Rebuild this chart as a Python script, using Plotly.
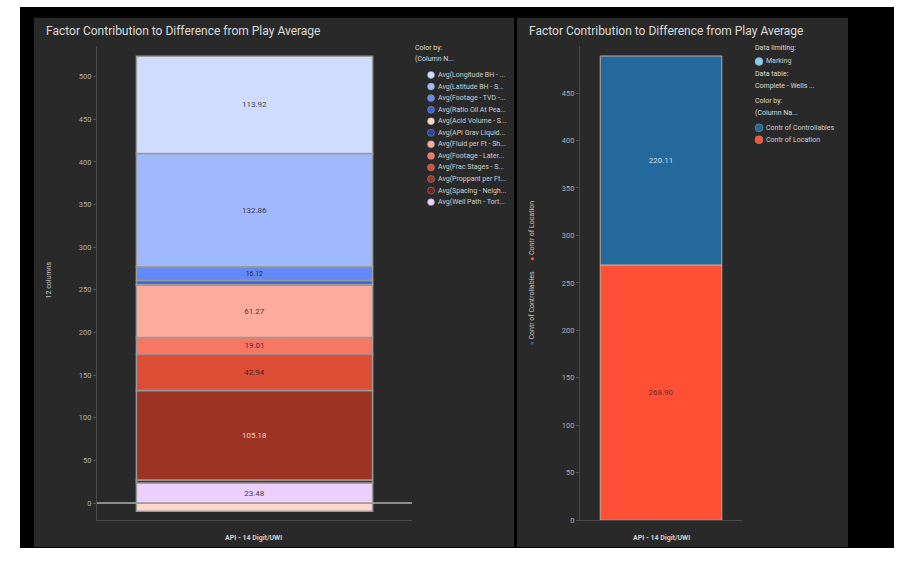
import plotly.graph_objects as go

W, H = 907, 553

# ---------------- data ----------------
category = ["API - 14 Digit/UWI"]

factor_names = [
    "Avg(Longitude BH - ...", "Avg(Latitude BH - S...", "Avg(Footage - TVD -...",
    "Avg(Ratio Oil At Pea...", "Avg(Acid Volume - S...", "Avg(API Grav Liquid...",
    "Avg(Fluid per Ft - Sh...", "Avg(Footage - Later...", "Avg(Frac Stages - S...",
    "Avg(Proppant per Ft...", "Avg(Spacing - Neigh...", "Avg(Well Path - Tort...",
]
factor_values = [113.92, 132.86, 16.12, 4.5, -9.5, 1.0, 61.27, 19.01, 42.94, 105.18, 3.5, 23.48]
factor_labeled = [True, True, True, False, False, False, True, True, True, True, False, True]
# stacking order, bottom to top (indices into the lists above)
stack_order = [4, 11, 10, 9, 8, 7, 6, 5, 3, 2, 1, 0]

contr_names = ["Contr of Location", "Contr of Controllables"]
contr_values = [268.90, 220.11]

left_ticks = [0, 50, 100, 150, 200, 250, 300, 350, 400, 450, 500]
right_ticks = [0, 50, 100, 150, 200, 250, 300, 350, 400, 450]

# ---------------- styles ----------------
factor_colors = ["#d0dcff", "#a0b8fd", "#6289f5", "#3b60dc", "#fdd6cc", "#2843a8",
                 "#fdab9c", "#f87764", "#dc4e36", "#9d3323", "#6e2419", "#ebd0fe"]
factor_text_colors = ["#3c3c4c", "#3c3c4c", "#2c2c44", "#333", "#333", "#eee",
                      "#4a3a3a", "#4a2a2a", "#4a2420", "#f0d4d0", "#eee", "#4a4050"]
contr_colors = {"Contr of Location": "#ff5035", "Contr of Controllables": "#23699b"}
contr_text_colors = {"Contr of Location": "#6a2a20", "Contr of Controllables": "#d0dcea"}

FONT = "Roboto, Arial, sans-serif"
PANEL = "#292929"


def px(x):
    return x / W


def py(y):
    return 1 - y / H


fig = go.Figure()

for i in stack_order:
    v = factor_values[i]
    fig.add_trace(go.Bar(
        x=category, y=[v], name=factor_names[i], xaxis="x", yaxis="y",
        marker=dict(color=factor_colors[i], line=dict(color="#9a9a9a", width=1.5)),
        text=[f"{v:.2f}" if factor_labeled[i] else ""],
        textposition="inside", insidetextanchor="middle", textangle=0,
        insidetextfont=dict(family=FONT, size=8, color=factor_text_colors[i]),
        showlegend=False,
    ))

for n, v in zip(contr_names, contr_values):
    fig.add_trace(go.Bar(
        x=category, y=[v], name=n, xaxis="x2", yaxis="y2",
        marker=dict(color=contr_colors[n], line=dict(color="#c8a89c", width=1)),
        text=[f"{v:.2f}"], textposition="inside", insidetextanchor="middle", textangle=0,
        insidetextfont=dict(family=FONT, size=8, color=contr_text_colors[n]),
        showlegend=False,
    ))

axis_common = dict(showgrid=False, linecolor="#4a4a4a", linewidth=1,
                   tickfont=dict(family=FONT, size=7.5, color="#b0b0b0"),
                   ticks="outside", ticklen=3, tickcolor="#555555")

fig.update_layout(
    width=W, height=H, margin=dict(l=0, r=0, t=0, b=0),
    paper_bgcolor="white", plot_bgcolor="rgba(0,0,0,0)",
    barmode="relative", bargap=0.25,
    font=dict(family=FONT),
    xaxis=dict(domain=[px(97), px(412)], range=[-0.5, 0.5], showticklabels=False,
               showgrid=False, showline=True, linecolor="#4a4a4a", zeroline=False,
               anchor="y"),
    yaxis=dict(domain=[py(525), py(46)], range=[-20.1, 536.4], tickvals=left_ticks,
               showline=True, zeroline=True, zerolinecolor="#8c8c8c", zerolinewidth=2,
               anchor="x", **axis_common),
    xaxis2=dict(domain=[px(580), px(742)], range=[-0.5, 0.5], showticklabels=False,
                showgrid=False, showline=True, linecolor="#4a4a4a", zeroline=False,
                anchor="y2"),
    yaxis2=dict(domain=[py(525), py(46)], range=[0, 500], tickvals=right_ticks,
                showline=True, zeroline=False, anchor="x2", **axis_common),
)

shapes = [
    dict(type="rect", xref="paper", yref="paper", x0=px(20), x1=px(894), y0=0, y1=py(7),
         fillcolor="#000000", line=dict(width=0), layer="below"),
    dict(type="rect", xref="paper", yref="paper", x0=px(34), x1=px(514), y0=py(552), y1=py(18),
         fillcolor=PANEL, line=dict(width=0), layer="below"),
    dict(type="rect", xref="paper", yref="paper", x0=px(517), x1=px(848), y0=py(552), y1=py(18),
         fillcolor=PANEL, line=dict(width=0), layer="below"),
]


def dot(cx, cy, color, d=7):
    return dict(type="circle", xref="paper", yref="paper",
                x0=px(cx - d / 2), x1=px(cx + d / 2), y0=py(cy + d / 2), y1=py(cy - d / 2),
                fillcolor=color, line=dict(width=0.5, color="#9a9a9a"), layer="above")


annotations = []


def text(x, y, s, size=7, color="#d8d8d8", xanchor="left", angle=0, yanchor="middle"):
    annotations.append(dict(x=px(x), y=py(y), xref="paper", yref="paper", text=s,
                            showarrow=False, xanchor=xanchor, yanchor=yanchor, textangle=angle,
                            font=dict(family=FONT, size=size, color=color)))


title = "Factor Contribution to Difference from Play Average"
text(44, 31, title, size=12, color="#dcdcdc")
text(527, 31, title, size=12, color="#dcdcdc")

# left legend
text(413, 48, "Color by:", size=7, color="#dcdcdc")
text(413, 60, "(Column N...", size=7, color="#dcdcdc")
for i, n in enumerate(factor_names):
    yy = 75.7 + i * 11.66
    shapes.append(dot(431, yy, factor_colors[i], 7))
    text(436, yy, n, size=7, color="#d0d0d0")

# right legend
text(753, 48, "Data limiting:", size=7, color="#dcdcdc")
shapes.append(dot(759, 62, "#87ceeb", 8))
text(764, 62, "Marking", size=7, color="#d0d0d0")
text(753, 75, "Data table:", size=7, color="#dcdcdc")
text(753, 87, "Complete - Wells ...", size=7, color="#dcdcdc")
text(753, 102, "Color by:", size=7, color="#dcdcdc")
text(753, 114, "(Column Na...", size=7, color="#dcdcdc")
for yy, n in zip([129, 141], ["Contr of Controllables", "Contr of Location"]):
    shapes.append(dot(759, yy, contr_colors[n], 8))
    text(764, yy, n, size=7, color="#d0d0d0")

# axis titles
text(254, 543, "<b>" + category[0] + "</b>", size=7, color="#d0d0d0", xanchor="center")
text(661, 543, "<b>" + category[0] + "</b>", size=7, color="#d0d0d0", xanchor="center")
text(49, 283, "12 columns", size=7, color="#c8c8c8", xanchor="center", angle=-90)
rot = ("<span style='color:%s'>●</span> Contr of Controllables      "
       "<span style='color:%s'>●</span> Contr of Location") % (
    contr_colors["Contr of Controllables"], contr_colors["Contr of Location"])
text(532, 276, rot, size=7, color="#c8c8c8", xanchor="center", angle=-90)

fig.update_layout(shapes=shapes, annotations=annotations)
fig.write_html("out.html", config={"displayModeBar": False},
               post_script="document.body.style.margin='0';document.body.style.overflow='hidden';")
